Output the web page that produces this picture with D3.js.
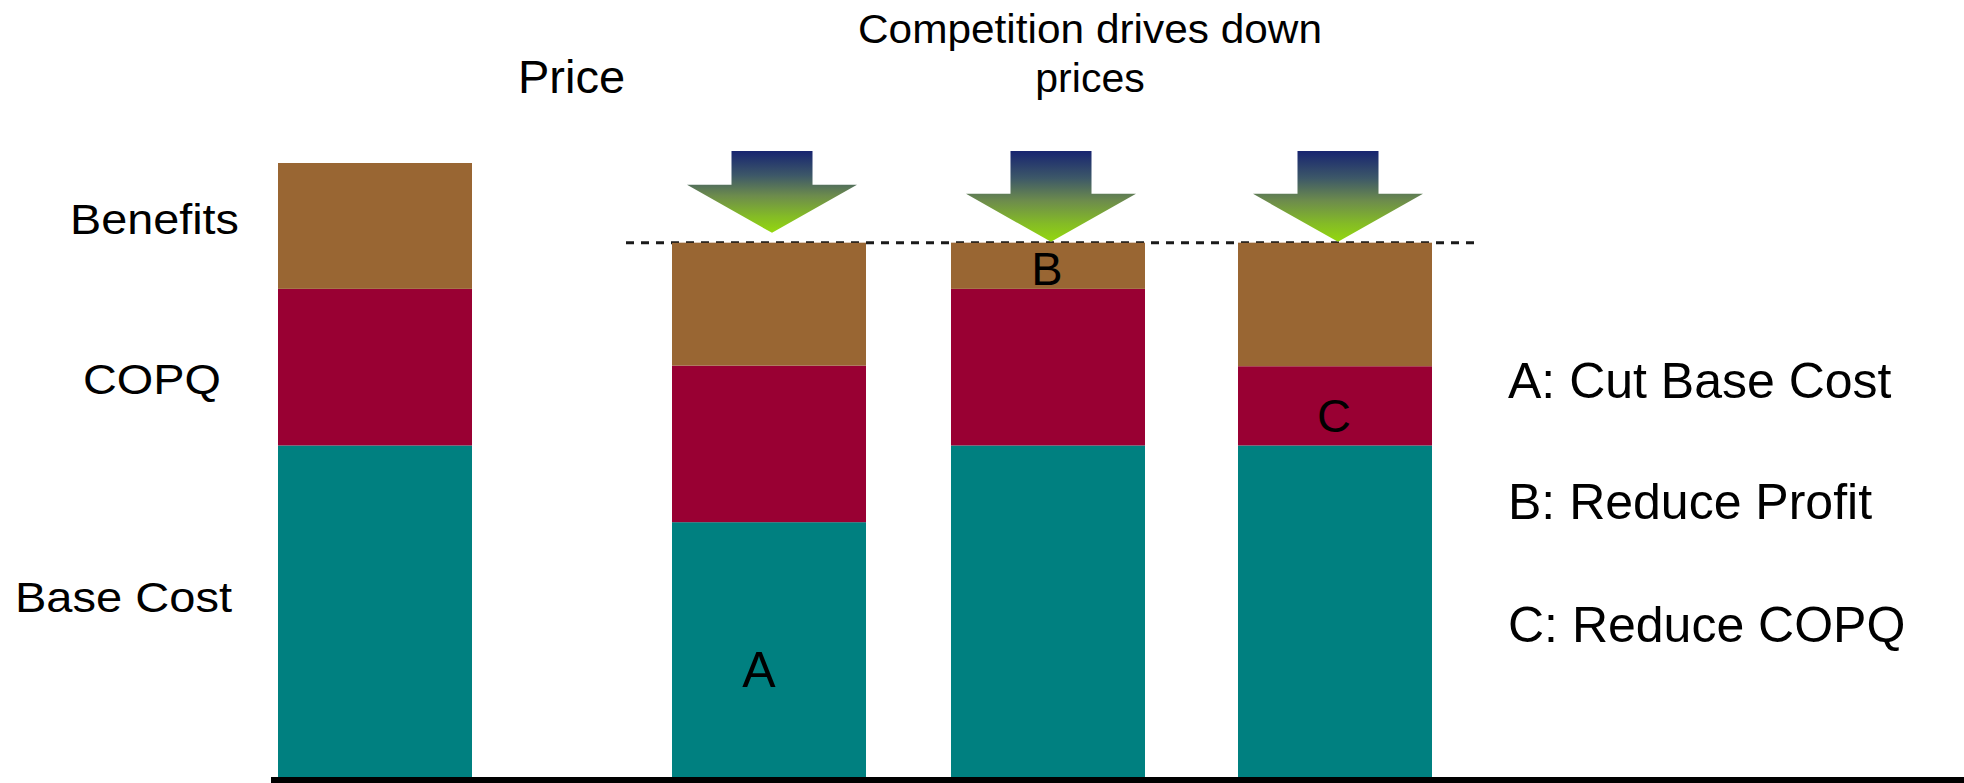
<!DOCTYPE html>
<html>
<head>
<meta charset="utf-8">
<script src="https://cdn.jsdelivr.net/npm/d3@7"></script>
<style>
  html, body { margin: 0; padding: 0; background: #ffffff; }
  svg { display: block; }
  text { font-family: "Liberation Sans", Arial, sans-serif; fill: #000; }
</style>
</head>
<body>
<div id="chart"></div>
<script>
// ---------------- data ----------------
const categories = ["Price", "A", "B", "C"];
const baseCost   = [54, 41.5, 54, 54];
const copq       = [25.5, 25.5, 25.5, 12.9];
const benefits   = [20.5, 20, 7.5, 20.1];
const competitionPrice = 87;
const segmentNames = ["Base Cost", "COPQ", "Benefits"];
const arrowCategories = ["A", "B", "C"];
const barLetters = [
  { cat: "A", text: "A", value: 14.7 },
  { cat: "B", text: "B", value: 80.1 },
  { cat: "C", text: "C", value: 56.2 }
];
const legendItems = ["A: Cut Base Cost", "B: Reduce Profit", "C: Reduce COPQ"];
const titleTop = ["Competition drives down", "prices"];

// ---------------- layout ----------------
const W = 1964, H = 783;
const svg = d3.select("#chart").append("svg").attr("width", W).attr("height", H);

const y = d3.scaleLinear().domain([0, 100]).range([777, 163]);
const barWidth = 194;
const xLeft = d3.scaleOrdinal().domain(categories).range([278, 672, 951, 1238]);
const xCenter = c => xLeft(c) + barWidth / 2;

const colors = { "Base Cost": "#008080", "COPQ": "#990033", "Benefits": "#996633" };

const table = categories.map((c, i) => ({
  cat: c, "Base Cost": baseCost[i], "COPQ": copq[i], "Benefits": benefits[i]
}));
const stacked = d3.stack().keys(segmentNames)(table);

// gradient for arrows
const defs = svg.append("defs");
const grad = defs.append("linearGradient").attr("id", "arrowGrad")
  .attr("x1", 0).attr("y1", 0).attr("x2", 0).attr("y2", 1);
grad.append("stop").attr("offset", "0%").attr("stop-color", "#172470");
grad.append("stop").attr("offset", "30%").attr("stop-color", "#3d5868");
grad.append("stop").attr("offset", "55%").attr("stop-color", "#6d8c4c");
grad.append("stop").attr("offset", "80%").attr("stop-color", "#84bb26");
grad.append("stop").attr("offset", "100%").attr("stop-color", "#94d80e");

// bars
svg.append("g").selectAll("g").data(stacked).join("g")
  .attr("fill", d => colors[d.key])
  .selectAll("rect").data(d => d).join("rect")
  .attr("x", d => xLeft(d.data.cat))
  .attr("width", barWidth)
  .attr("y", d => y(d[1]))
  .attr("height", d => y(d[0]) - y(d[1]));

// dashed competition price line
svg.append("line")
  .attr("x1", 626).attr("x2", 1476)
  .attr("y1", y(competitionPrice)).attr("y2", y(competitionPrice))
  .attr("stroke", "#1a1a1a").attr("stroke-width", 3)
  .attr("stroke-dasharray", "8,7");
// redraw bar tops over dashed line
svg.append("g").selectAll("rect").data(stacked[2].filter(d => d.data.cat !== "Price")).join("rect")
  .attr("x", d => xLeft(d.data.cat)).attr("width", barWidth)
  .attr("y", d => y(d[1])).attr("height", 4)
  .attr("fill", colors["Benefits"]);

// arrows
const stemTop = 151, stemHalf = 40.5, headHalf = 85, headH = 48;
const tipGap = { A: 10, B: 1, C: 1 };
svg.append("g").selectAll("path").data(arrowCategories).join("path")
  .attr("d", c => {
    const cx = xCenter(c) + 3;
    const tip = y(competitionPrice) - tipGap[c];
    const hs = tip - headH;
    return `M${cx - stemHalf},${stemTop} L${cx + stemHalf},${stemTop} L${cx + stemHalf},${hs} ` +
           `L${cx + headHalf},${hs} L${cx},${tip} L${cx - headHalf},${hs} L${cx - stemHalf},${hs} Z`;
  })
  .attr("fill", "url(#arrowGrad)");

// baseline
svg.append("line")
  .attr("x1", 271).attr("x2", W)
  .attr("y1", 780).attr("y2", 780)
  .attr("stroke", "#000").attr("stroke-width", 6);

// letters in bars
svg.append("g").selectAll("text").data(barLetters).join("text")
  .attr("x", d => xCenter(d.cat) + (d.cat === "A" ? -10 : -1))
  .attr("y", d => y(d.value))
  .attr("text-anchor", "middle")
  .attr("font-size", d => d.cat === "A" ? 50 : 47)
  .text(d => d.text);

// left row labels (horizontally stretched like the reference)
const leftLabels = [
  { text: "Benefits", x: 70, y: 234, len: 169 },
  { text: "COPQ", x: 83, y: 394, len: 138 },
  { text: "Base Cost", x: 15, y: 612, len: 217 }
];
svg.append("g").selectAll("text").data(leftLabels).join("text")
  .attr("x", d => d.x).attr("y", d => d.y)
  .attr("font-size", 42)
  .attr("textLength", d => d.len).attr("lengthAdjust", "spacingAndGlyphs")
  .text(d => d.text);

// Price label
svg.append("text").attr("x", 518).attr("y", 93).attr("font-size", 47).text(categories[0]);

// Competition title
svg.append("text").attr("x", 858).attr("y", 43).attr("font-size", 41)
  .attr("textLength", 464).attr("lengthAdjust", "spacingAndGlyphs").text(titleTop[0]);
svg.append("text").attr("x", 1090).attr("y", 92).attr("font-size", 41)
  .attr("text-anchor", "middle").text(titleTop[1]);

// legend
svg.append("g").selectAll("text").data(legendItems).join("text")
  .attr("x", 1508)
  .attr("y", (d, i) => [398, 519, 642][i])
  .attr("font-size", 50)
  .text(d => d);
</script>
</body>
</html>
